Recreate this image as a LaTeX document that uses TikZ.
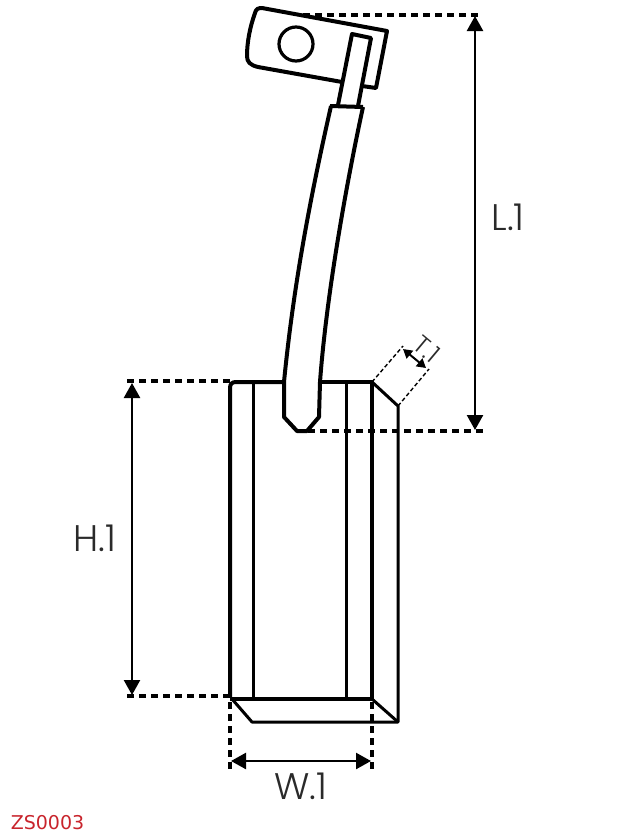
\documentclass[tikz,border=0pt]{standalone}
\usepackage{fontspec}
\setmainfont{Poppins Light}
\newfontfamily\codefont{DejaVu Sans}
\usetikzlibrary{arrows.meta}
\definecolor{labelgray}{HTML}{2A2A2A}
\definecolor{codered}{HTML}{C8242C}
\tikzset{
  thick line/.style={line width=4pt,black,line join=round},
  mid line/.style={line width=3pt,black,line join=round},
  dim dash/.style={line width=3.2pt,black,dash pattern=on 7pt off 5pt},
  thin dash/.style={line width=1.4pt,black,dash pattern=on 4pt off 2.5pt},
  dim arrow/.style={line width=2.4pt,black,{Triangle[length=15pt,width=16pt]}-{Triangle[length=15pt,width=16pt]}},
  small arrow/.style={line width=2pt,black,{Triangle[length=9pt,width=10pt]}-{Triangle[length=9pt,width=10pt]}},
  dim label/.style={text=labelgray,font=\fontsize{37}{37}\selectfont,inner sep=0pt},
}
\begin{document}
\begin{tikzpicture}[x=1pt,y=-1pt]
\useasboundingbox (0,0) rectangle (632,835);
% dimension coordinates
\coordinate (lugtop) at (303,15);
\coordinate (lugtopend) at (478,15);
\coordinate (tipend) at (485,431);
\coordinate (tipstart) at (308,431);
\coordinate (htop) at (127,381);
\coordinate (htopend) at (232,381);
\coordinate (hbot) at (127,696);
\coordinate (hbotend) at (232,696);
\coordinate (wl) at (230,702);
\coordinate (wlend) at (230,770);
\coordinate (wr) at (372,702);
\coordinate (wrend) at (372,770);
\coordinate (a) at (372,382);
\coordinate (b) at (398,406);
\coordinate (a2) at (403,346);
\coordinate (b2) at (429,369);
% lug
\draw[thick line] (342,82) -- (258,67) .. controls (250,65) and (247,62) .. (247,56)
  .. controls (247,42) and (250,27) .. (255,13) .. controls (256,9) and (258,8) .. (262,8)
  -- (387,31) -- (376,88) -- (362,86);
\node[draw,circle,line width=3.2pt,minimum size=34pt,inner sep=0pt] (hole) at (296,44) {};
% strip
\draw[thick line] (338,105) -- (352,34) -- (371,38) -- (358,106);
\draw[thick line] (330,106) -- (363,107);
% sleeve
\draw[thick line] (331,106) .. controls (312,190) and (294,280) .. (284,382) -- (284,417)
  -- (297,431) -- (307,431) -- (319,417) -- (320,382) .. controls (326,300) and (345,190) .. (363,107);
% brush
\draw[thick line] (284,382) -- (236,382) .. controls (232,382) and (230,384) .. (230,388) -- (230,697);
\draw[thick line] (320,382) -- (372,382) -- (372,699) -- (230,699);
\draw[mid line] (253,382) -- (253,699);
\draw[mid line] (346,382) -- (346,699);
\draw[mid line] (372,382) -- (398,406) -- (398,722) -- (252,722) -- (232,699);
\draw[mid line] (372,699) -- (398,722);
% dimensions
\draw[dim dash] (lugtop) -- (lugtopend);
\draw[dim dash] (tipstart) -- (tipend);
\draw[dim dash] (htop) -- (htopend);
\draw[dim dash] (hbot) -- (hbotend);
\draw[dim dash] (wl) -- (wlend);
\draw[dim dash] (wr) -- (wrend);
\draw[thin dash] (a) -- (a2);
\draw[thin dash] (b) -- (b2);
\draw[dim arrow] (475,16) -- (475,430);
\draw[dim arrow] (132,383) -- (132,695);
\draw[dim arrow] (231,761) -- (371,761);
\draw[small arrow] (403,349) -- (426,368);
% labels
\node[dim label] (L) at (508,217) {L.1};
\node[dim label] (H) at (95,538) {H.1};
\node[dim label] (W) at (301,786) {W.1};
\node[text=labelgray,font=\fontsize{25}{25}\selectfont,inner sep=0pt,rotate=-40] (T) at (427,349) {T.1};
\node[text=codered,font=\codefont\fontsize{19}{19}\selectfont,inner sep=0pt] (code) at (47.5,823) {ZS0003};
\end{tikzpicture}
\end{document}
